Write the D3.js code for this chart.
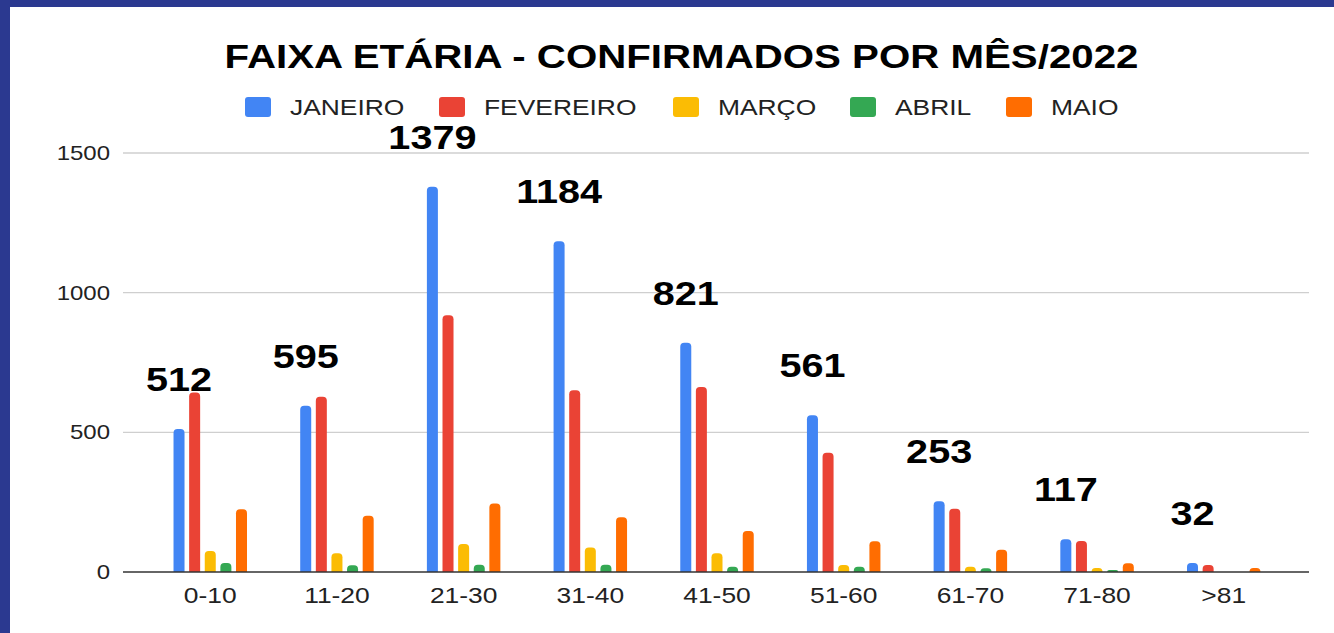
<!DOCTYPE html>
<html>
<head>
<meta charset="utf-8">
<script src="https://cdn.jsdelivr.net/npm/d3@7"></script>
<style>
  html, body { margin: 0; padding: 0; background: #fff; }
  svg text { font-family: Arial, "Liberation Sans", sans-serif; }
</style>
</head>
<body>
<svg id="chart" width="1334" height="633"></svg>
<script>
// faixas etarias (x)
var faixas = ['0-10', '11-20', '21-30', '31-40', '41-50', '51-60', '61-70', '71-80', '>81'];
var meses = ['JANEIRO', 'FEVEREIRO', 'MARÇO', 'ABRIL', 'MAIO'];
var cores = ['#4285F4', '#EA4335', '#FBBC04', '#34A853', '#FF6D01'];

// confirmados por mes
var janeiro   = [512, 595, 1379, 1184, 821, 561, 253, 117, 32];
var fevereiro = [643, 627, 919, 651, 662, 427, 226, 111, 25];
var marco     = [75, 67, 100, 88, 67, 25, 19, 14, 0];
var abril     = [32, 24, 26, 26, 19, 19, 13, 7, 0];
var maio      = [225, 201, 245, 196, 147, 110, 80, 31, 14];
var yTicks    = [0, 500, 1000, 1500];

var series = [janeiro, fevereiro, marco, abril, maio];
var sx = 1.2; // text is a bit stretched horizontally in the original

var svg = d3.select('#chart');

// blue frame
svg.append('rect').attr('width', 1334).attr('height', 633).attr('fill', '#2b3990');
svg.append('rect').attr('x', 10).attr('y', 7).attr('width', 1324).attr('height', 626).attr('fill', '#fff');

var plotL = 123, plotR = 1309, plotT = 153, plotB = 572;

var y = d3.scaleLinear().domain([0, 1500]).range([plotB, plotT]);
var x0 = d3.scaleBand().domain(faixas).range([125, plotR]).paddingInner(0.42).paddingOuter(0.383);
var x1 = d3.scaleBand().domain(d3.range(meses.length)).range([0, x0.bandwidth()]).paddingInner(0.295).paddingOuter(0);

function stretched(sel, x, y, k) {
  return sel.attr('transform', function(d, i) {
    var xx = typeof x === 'function' ? x(d, i) : x;
    var yy = typeof y === 'function' ? y(d, i) : y;
    return 'translate(' + xx + ',' + yy + ') scale(' + (k || sx) + ',1)';
  });
}

// title
stretched(svg.append('text'), 681.5, 68, 1.22)
  .attr('text-anchor', 'middle')
  .style('font-size', '33px').style('font-weight', 'bold').attr('fill', '#000')
  .text('FAIXA ETÁRIA - CONFIRMADOS POR MÊS/2022');

// legend
var legX = [245, 439, 673, 850, 1006];
var leg = svg.append('g').selectAll('g').data(meses).enter().append('g');
leg.append('rect')
  .attr('x', function(d, i) { return legX[i]; })
  .attr('y', 97).attr('width', 26).attr('height', 20).attr('rx', 3)
  .attr('fill', function(d, i) { return cores[i]; });
stretched(leg.append('text'), function(d, i) { return legX[i] + 45; }, 115)
  .style('font-size', '22px').attr('fill', '#222')
  .text(function(d) { return d; });

// gridlines + y axis labels
var grid = svg.append('g');
grid.selectAll('line').data(yTicks.filter(function(t) { return t > 0; })).enter().append('line')
  .attr('x1', plotL).attr('x2', plotR)
  .attr('y1', function(d) { return y(d); }).attr('y2', function(d) { return y(d); })
  .attr('stroke', '#cfcfcf').attr('stroke-width', 1.3);
stretched(grid.selectAll('text').data(yTicks).enter().append('text'), 110, function(d) { return y(d) + 7; })
  .attr('text-anchor', 'end')
  .style('font-size', '20px').attr('fill', '#222')
  .text(function(d) { return d; });

// bars with rounded tops
function barPath(x, yTop, w, yBase) {
  var h = yBase - yTop;
  if (h <= 0) return '';
  var r = Math.min(4, w / 2, h);
  return 'M' + x + ',' + yBase +
    'V' + (yTop + r) +
    'Q' + x + ',' + yTop + ' ' + (x + r) + ',' + yTop +
    'H' + (x + w - r) +
    'Q' + (x + w) + ',' + yTop + ' ' + (x + w) + ',' + (yTop + r) +
    'V' + yBase + 'Z';
}

var groups = svg.append('g').selectAll('g').data(faixas).enter().append('g')
  .attr('transform', function(d) { return 'translate(' + x0(d) + ',0)'; });

groups.selectAll('path').data(function(d, gi) {
  return series.map(function(s, si) { return { si: si, v: s[gi] }; });
}).enter().append('path')
  .attr('d', function(d) { return barPath(x1(d.si), y(d.v), x1.bandwidth(), y(0)); })
  .attr('fill', function(d) { return cores[d.si]; });

// baseline
svg.append('line')
  .attr('x1', plotL).attr('x2', plotR).attr('y1', y(0)).attr('y2', y(0))
  .attr('stroke', '#333').attr('stroke-width', 1.6);

// x labels
stretched(svg.append('g').selectAll('text').data(faixas).enter().append('text'),
  function(d) { return x0(d) + x0.bandwidth() / 2; }, 603)
  .attr('text-anchor', 'middle')
  .style('font-size', '22px').attr('fill', '#222')
  .text(function(d) { return d; });

// january totals above the blue bars
stretched(svg.append('g').selectAll('text').data(faixas).enter().append('text'),
  function(d) { return x0(d) + x1(0) + x1.bandwidth() / 2; },
  function(d, i) { return y(janeiro[i]) - 38; })
  .attr('text-anchor', 'middle')
  .style('font-size', '33px').style('font-weight', 'bold').attr('fill', '#000')
  .text(function(d, i) { return janeiro[i]; });
</script>
</body>
</html>
